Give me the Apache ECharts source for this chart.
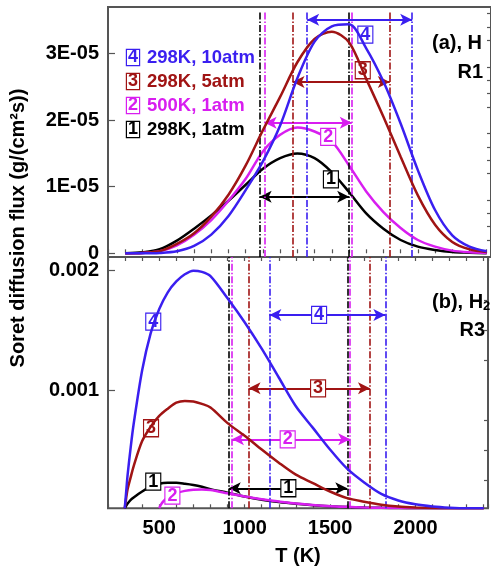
<!DOCTYPE html>
<html><head><meta charset="utf-8">
<script src="https://cdn.jsdelivr.net/npm/echarts@6/dist/echarts.min.js"></script>
<style>html,body{margin:0;padding:0;background:#fff}#c{width:491px;height:569px}</style>
</head><body><div id="c"></div>
<script>
// ---------------- data ----------------
const caseNums  = ['1', '2', '3', '4'];
const caseNames = ['298K, 1atm', '500K, 1atm', '298K, 5atm', '298K, 10atm'];

// (a) H, R1 : flux in units of 1E-05 g/(cm2 s)
const T_a = [300,400,500,600,700,800,900,1000,1100,1200,1300,1400,1500,1600,1700,1800,1900,2000,2100,2200,2300,2400];
const fluxA_1 = [0,0.015,0.06,0.19,0.37,0.57,0.79,1.03,1.27,1.43,1.50,1.43,1.22,0.92,0.60,0.37,0.20,0.10,0.05,0.02,0.01,0];
const fluxA_2 = [0,0.005,0.03,0.12,0.28,0.50,0.79,1.12,1.53,1.78,1.89,1.83,1.68,1.32,0.93,0.62,0.38,0.20,0.10,0.04,0.015,0.005];
const fluxA_3 = [0,0.005,0.03,0.14,0.30,0.55,0.88,1.32,1.85,2.35,2.87,3.22,3.33,3.17,2.62,2.05,1.45,0.87,0.43,0.17,0.06,0.02];
const fluxA_4 = [0,0,0.005,0.03,0.11,0.28,0.56,0.95,1.38,1.92,2.63,3.18,3.41,3.44,3.08,2.58,1.95,1.25,0.65,0.27,0.10,0.03];

// (b) H2, R3 : flux in units of 0.001 g/(cm2 s)
const T_b = [298,306,315,333,350,400,450,500,550,600,650,700,750,800,900,1000,1100,1200,1300,1400,1500,1600,1700,1800,1900,2000,2100,2200,2300,2400];
const fluxB_1 = [0.02,0.04,0.06,0.09,0.11,0.16,0.20,0.225,0.232,0.232,0.225,0.215,0.20,0.18,0.15,0.118,0.092,0.072,0.057,0.045,0.037,0.031,0.027,0.024,0.022,0.021,0.02,0.02,0.02,0.02];
const fluxB_3 = [0.02,0.10,0.18,0.28,0.37,0.58,0.70,0.79,0.85,0.90,0.915,0.91,0.89,0.86,0.73,0.625,0.51,0.40,0.30,0.23,0.16,0.105,0.075,0.05,0.035,0.027,0.022,0.02,0.02,0.02];
const fluxB_4 = [0.02,0.15,0.30,0.53,0.72,1.17,1.48,1.68,1.82,1.91,1.97,2.00,1.99,1.955,1.77,1.57,1.35,1.11,0.87,0.69,0.51,0.35,0.235,0.14,0.085,0.053,0.035,0.025,0.02,0.02];
const T_b2 = [500,510,525,550,600,650,700,750,800,900,1000,1100,1200,1300,1400,1500,1600,1700,1800,1900,2000,2100,2200,2300,2400];
const fluxB_2 = [0.02,0.05,0.08,0.11,0.145,0.165,0.175,0.177,0.172,0.145,0.118,0.095,0.077,0.06,0.048,0.038,0.032,0.027,0.024,0.022,0.021,0.02,0.02,0.02,0.02];

// temperature ranges (vertical dash-dot lines + double arrows)
const rangeA  = [[1081,1601],[1110,1616],[1272,1837],[1357,1967]];
const arrowA  = [0.85, 1.96, 2.574, 3.51];
const boxA    = [[1495,1.11],[1479,1.75],[1680,2.75],[1695,3.285]];
const rangeB  = [[907,1601],[926,1618],[1023,1734],[1145,1824]];
const arrowB  = [0.187, 0.595, 1.02, 1.631];
const boxB    = [[1256,0.187],[1252,0.595],[1430,1.02],[1436,1.631]];
const curveBoxB = [[465,0.242],[577,0.125],[452,0.687],[465,1.575]];

const xTicksMajor = [500, 1000, 1500, 2000];
const yTicksA = [0, 1, 2, 3];
const yTicksB = [1, 2];

// ---------------- styles ----------------
const colors = ['#000000', '#d81ef0', '#a01414', '#3a1ff0'];
const FONT = 'Liberation Sans';
const AX = '#555';
const dashDot = [7, 2, 1.5, 2];

const T_A_MIN = -0.0556, T_A_MAX = 3.7, B_MIN = 0.02, B_MAX = 2.114;
const X_MIN = 200, X_MAX = 2425;

const fluxA = [fluxA_1, fluxA_2, fluxA_3, fluxA_4];
const fluxB = [fluxB_1, fluxB_2, fluxB_3, fluxB_4];
const tB = [T_b, T_b2, T_b, T_b];

function boxPoint(coord, i) {
  return {
    coord: coord, value: caseNums[i],
    symbol: 'rect', symbolSize: [15, 17],
    itemStyle: {color: '#fff', borderColor: colors[i], borderWidth: 1.2},
    label: {show: true, position: 'inside', color: colors[i], fontSize: 18, fontWeight: 'bold', fontFamily: FONT, formatter: caseNums[i]}
  };
}

const series = [];
function addPanel(xi, yi, Tarr, F, range, arrowY, box, yLo, yHi, extraBoxes) {
  for (let i = 0; i < 4; i++) {
    const T = Tarr[i];
    series.push({
      type: 'line', name: caseNames[i], xAxisIndex: xi, yAxisIndex: yi,
      data: T.map((t, k) => [t, F[i][k]]),
      smooth: 0.3, showSymbol: false, clip: true,
      lineStyle: {color: colors[i], width: 2.5}, itemStyle: {color: colors[i]},
      z: 3 + i, silent: true,
      markPoint: extraBoxes ? {silent: true, animation: false, label: {fontSize: 18}, data: [boxPoint(extraBoxes[i], i)]} : undefined
    });
    series.push({
      type: 'line', name: caseNames[i], xAxisIndex: xi, yAxisIndex: yi, data: [],
      z: 2, silent: true,
      markLine: {
        silent: true, animation: false, symbol: 'none',
        label: {show: false},
        lineStyle: {color: colors[i], width: 1.6, type: dashDot},
        emphasis: {disabled: true},
        data: range[i].map(t => [{coord: [t, yLo]}, {coord: [t, yHi]}])
      }
    });
    series.push({
      type: 'line', name: caseNames[i], xAxisIndex: xi, yAxisIndex: yi, data: [],
      z: 10, silent: true,
      markLine: {
        silent: true, animation: false, symbol: ['arrow', 'arrow'], symbolSize: [9, 12],
        label: {show: false},
        lineStyle: {color: colors[i], width: 2, type: 'solid'},
        emphasis: {disabled: true},
        data: [[{coord: [range[i][0], arrowY[i]]}, {coord: [range[i][1], arrowY[i]]}]]
      },
      markPoint: {silent: true, animation: false, label: {fontSize: 18}, data: [boxPoint(box[i], i)]}
    });
  }
}
addPanel(0, 0, [T_a, T_a, T_a, T_a], fluxA, rangeA, arrowA, boxA, T_A_MIN, 3.62, null);
addPanel(1, 2, tB, fluxB, rangeB, arrowB, boxB, B_MIN, B_MAX, curveBoxB);

function range(a, b, s) { const r = []; for (let v = a; v <= b + 1e-9; v += s) r.push(+v.toFixed(4)); return r; }
const minorA = range(0.2, 3.6, 0.2).filter(v => Math.abs(v - Math.round(v)) > 1e-6);
const minorB = [0.25, 0.5, 0.75, 1.25, 1.5, 1.75];

const labelFont = {fontFamily: FONT, fontWeight: 'bold', fontSize: 20, color: '#000'};

const chart = echarts.init(document.getElementById('c'), null, {renderer: 'canvas'});
chart.setOption({
  backgroundColor: '#fff',
  animation: false,
  grid: [
    {left: 108, top: 7, right: 0, height: 250, show: true, borderColor: AX, borderWidth: 2, backgroundColor: 'transparent'},
    {left: 108, top: 257, right: 0, height: 251.3, show: true, borderColor: AX, borderWidth: 2, backgroundColor: 'transparent'}
  ],
  xAxis: [
    {type: 'value', gridIndex: 0, min: X_MIN, max: X_MAX, interval: 100, position: 'bottom',
     axisLine: {show: false}, axisTick: {inside: true, length: 4, lineStyle: {color: AX, width: 1.2}},
     axisLabel: {show: false}, splitLine: {show: false}},
    {type: 'value', gridIndex: 1, min: X_MIN, max: X_MAX, interval: 100, position: 'bottom',
     axisLine: {show: false}, axisTick: {inside: true, length: 4, lineStyle: {color: AX, width: 1.2}},
     axisLabel: Object.assign({margin: 10, formatter: v => xTicksMajor.includes(v) ? String(v) : ''}, labelFont),
     splitLine: {show: false},
     name: 'T (K)', nameLocation: 'middle', nameGap: 38,
     nameTextStyle: {fontFamily: FONT, fontWeight: 'bold', fontSize: 20, color: '#000'}},
    {type: 'value', gridIndex: 1, min: X_MIN, max: X_MAX, interval: 100, position: 'top',
     axisLine: {show: false}, axisTick: {inside: true, length: 4, lineStyle: {color: AX, width: 1.2}},
     axisLabel: {show: false}, splitLine: {show: false}}
  ],
  yAxis: [
    {type: 'value', gridIndex: 0, min: T_A_MIN, max: T_A_MAX,
     axisLine: {show: false}, splitLine: {show: false},
     axisTick: {inside: true, length: 7, customValues: yTicksA, lineStyle: {color: AX, width: 1.2}},
     axisLabel: Object.assign({margin: 9, customValues: yTicksA, formatter: v => v === 0 ? '0' : (v + 'E-05')}, labelFont)},
    {type: 'value', gridIndex: 0, min: T_A_MIN, max: T_A_MAX,
     axisLine: {show: false}, splitLine: {show: false},
     axisTick: {inside: true, length: 4, customValues: minorA, lineStyle: {color: AX, width: 1.2}},
     axisLabel: {show: false}},
    {type: 'value', gridIndex: 1, min: B_MIN, max: B_MAX,
     axisLine: {show: false}, splitLine: {show: false},
     axisTick: {inside: true, length: 7, customValues: yTicksB, lineStyle: {color: AX, width: 1.2}},
     axisLabel: Object.assign({margin: 9, customValues: yTicksB, formatter: v => '0.00' + v}, labelFont)},
    {type: 'value', gridIndex: 1, min: B_MIN, max: B_MAX,
     axisLine: {show: false}, splitLine: {show: false},
     axisTick: {inside: true, length: 4, customValues: minorB, lineStyle: {color: AX, width: 1.2}},
     axisLabel: {show: false}}
  ],
  legend: {
    orient: 'vertical', left: 117, top: 43, itemWidth: 0, itemHeight: 14, itemGap: 5,
    selectedMode: false,
    data: [3, 2, 1, 0].map(i => ({name: caseNames[i], icon: 'rect', itemStyle: {opacity: 0}, textStyle: {color: colors[i]}})),
    formatter: name => { const i = caseNames.indexOf(name); return '{b' + i + '|' + caseNums[i] + '}{g|}' + name; },
    textStyle: {
      fontFamily: FONT, fontWeight: 'bold', fontSize: 18.5, lineHeight: 19,
      rich: Object.assign({g: {width: 8}}, Object.fromEntries([0, 1, 2, 3].map(i => ['b' + i, {
        color: colors[i], fontSize: 18, fontWeight: 'bold', fontFamily: FONT,
        backgroundColor: '#fff', borderColor: colors[i], borderWidth: 1.2,
        width: 12, height: 15, lineHeight: 15, align: 'center'
      }])))
    }
  },
  graphic: [
    {type: 'text', x: 18, y: 228, rotation: Math.PI / 2, silent: true,
     style: {text: 'Soret diffusion flux (g/(cm²s))', fontFamily: FONT, fontWeight: 'bold', fontSize: 20, fill: '#000', align: 'center', verticalAlign: 'middle'}},
    {type: 'text', x: 482, y: 43, silent: true,
     style: {text: '(a), H', fontFamily: FONT, fontWeight: 'bold', fontSize: 20, fill: '#000', align: 'right', verticalAlign: 'middle'}},
    {type: 'text', x: 483, y: 72, silent: true,
     style: {text: 'R1', fontFamily: FONT, fontWeight: 'bold', fontSize: 20, fill: '#000', align: 'right', verticalAlign: 'middle'}},
    {type: 'text', x: 432, y: 302, silent: true,
     style: {text: '(b), H{s|2}', fontFamily: FONT, fontWeight: 'bold', fontSize: 20, fill: '#000', align: 'left', verticalAlign: 'middle',
       rich: {s: {fontFamily: FONT, fontWeight: 'bold', fontSize: 13, fill: '#000', padding: [9, 0, 0, 0]}}}},
    {type: 'text', x: 485, y: 330, silent: true,
     style: {text: 'R3', fontFamily: FONT, fontWeight: 'bold', fontSize: 20, fill: '#000', align: 'right', verticalAlign: 'middle'}}
  ],
  series: series
});
</script>
</body></html>
